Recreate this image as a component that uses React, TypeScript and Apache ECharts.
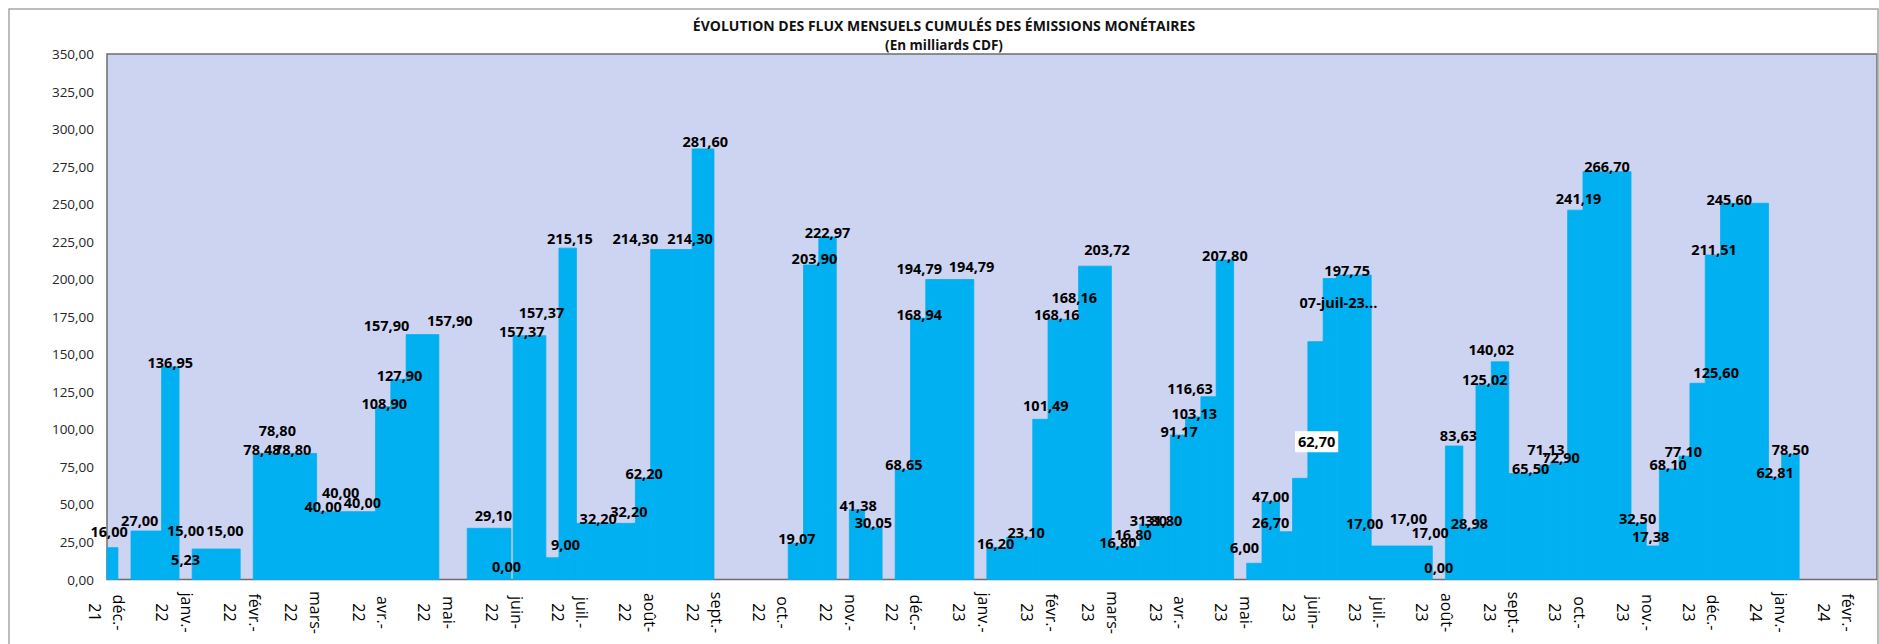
import React, { useEffect, useRef } from "react";
import * as echarts from "echarts";

const FONT = '"Open Sans", "Noto Sans", "DejaVu Sans", sans-serif';

const titleText = "ÉVOLUTION DES FLUX MENSUELS CUMULÉS DES ÉMISSIONS MONÉTAIRES";
const subtitleText = "(En milliards CDF)";

const xMin = "2021-12-01";
const xMax = "2024-02-19T16:00";

const monthTicks = [
  "2021-12-01", "2022-01-01", "2022-02-01", "2022-03-01", "2022-04-01", "2022-05-01", "2022-06-01",
  "2022-07-01", "2022-08-01", "2022-09-01", "2022-10-01", "2022-11-01", "2022-12-01", "2023-01-01",
  "2023-02-01", "2023-03-01", "2023-04-01", "2023-05-01", "2023-06-01", "2023-07-01", "2023-08-01",
  "2023-09-01", "2023-10-01", "2023-11-01", "2023-12-01", "2024-01-01", "2024-02-01",
];
const monthLabels = [
  "déc.-21", "janv.-22", "févr.-22", "mars-22", "avr.-22", "mai-22", "juin-22",
  "juil.-22", "août-22", "sept.-22", "oct.-22", "nov.-22", "déc.-22", "janv.-23",
  "févr.-23", "mars-23", "avr.-23", "mai-23", "juin-23", "juil.-23", "août-23",
  "sept.-23", "oct.-23", "nov.-23", "déc.-23", "janv.-24", "févr.-24",
];

// Bars (cumulated monthly flows), each spanning [start, end) on the date axis
const barStart = [
  "2021-12-01", "2021-12-12", "2021-12-26", "2022-01-09", "2022-02-06", "2022-03-07", "2022-04-03",
  "2022-04-10", "2022-04-17", "2022-05-15", "2022-06-05", "2022-06-20", "2022-06-26", "2022-07-04",
  "2022-07-31", "2022-08-07", "2022-08-26", "2022-10-09", "2022-10-16", "2022-10-23", "2022-11-06",
  "2022-11-13", "2022-11-27", "2022-12-04", "2022-12-11", "2023-01-08", "2023-01-17", "2023-01-29",
  "2023-02-05", "2023-02-19", "2023-03-06", "2023-03-19", "2023-04-02", "2023-04-09", "2023-04-16",
  "2023-04-23", "2023-05-07", "2023-05-14", "2023-05-22", "2023-05-28", "2023-06-04", "2023-06-11",
  "2023-06-17", "2023-07-03", "2023-08-06", "2023-08-14", "2023-08-20", "2023-08-27", "2023-09-04",
  "2023-09-18", "2023-09-23", "2023-10-01", "2023-10-08", "2023-10-30", "2023-11-06", "2023-11-12",
  "2023-11-21", "2023-11-26", "2023-12-03", "2023-12-10", "2024-01-01", "2024-01-07",
];
const barEnd = [
  "2021-12-06", "2021-12-26", "2022-01-03", "2022-01-31", "2022-03-07", "2022-04-03", "2022-04-10",
  "2022-04-17", "2022-05-02", "2022-06-04", "2022-06-20", "2022-06-26", "2022-07-04", "2022-07-31",
  "2022-08-07", "2022-08-26", "2022-09-05", "2022-10-16", "2022-10-23", "2022-10-31", "2022-11-13",
  "2022-11-21", "2022-12-04", "2022-12-11", "2023-01-02", "2023-01-17", "2023-01-29", "2023-02-05",
  "2023-02-19", "2023-03-06", "2023-03-19", "2023-04-02", "2023-04-09", "2023-04-16", "2023-04-23",
  "2023-05-01", "2023-05-14", "2023-05-22", "2023-05-28", "2023-06-04", "2023-06-11", "2023-06-17",
  "2023-07-03", "2023-07-31", "2023-08-14", "2023-08-20", "2023-08-27", "2023-09-04", "2023-09-18",
  "2023-09-23", "2023-10-01", "2023-10-08", "2023-10-30", "2023-11-06", "2023-11-12", "2023-11-21",
  "2023-11-26", "2023-12-03", "2023-12-10", "2024-01-01", "2024-01-07", "2024-01-15",
];
const barTop = [
  21.2, 32.3, 141.7, 20.3, 84.0, 45.2, 115.1, 133.3, 163.1, 34.1, 162.4, 14.5, 220.7, 37.4,
  67.4, 219.8, 286.8, 24.0, 209.5, 227.9, 46.5, 34.5, 72.9, 174.0, 199.8, 21.4, 28.1, 106.7,
  173.2, 208.7, 21.8, 36.8, 96.2, 108.3, 121.7, 212.8, 10.8, 52.0, 31.8, 67.4, 158.4, 200.5,
  202.8, 22.3, 88.9, 34.0, 129.5, 145.0, 70.6, 76.1, 77.9, 246.0, 271.6, 37.5, 22.3, 73.6,
  82.1, 130.7, 216.1, 250.6, 67.8, 83.3,
];

// Data labels: value shown, and where the label sits (date, value level)
const labelValues: (number | string)[] = [
  16.0, 27.0, 136.95, 5.23, 15.0, 15.0, 78.48, 78.8, 78.8, 40.0, 40.0, 40.0, 108.9, 127.9,
  157.9, 157.9, 29.1, 0.0, 157.37, 157.37, 9.0, 215.15, 32.2, 32.2, 62.2, 214.3, 214.3, 281.6,
  19.07, 203.9, 222.97, 41.38, 30.05, 68.65, 168.94, 194.79, 194.79, 16.2, 23.1, 101.49, 168.16,
  168.16, 203.72, 16.8, 16.8, 31.8, 31.8, 91.17, 103.13, 116.63, 207.8, 6.0, 47.0, 26.7, 62.7,
  "07-juil-23...", 197.75, 17.0, 17.0, 17.0, 0.0, 83.63, 28.98, 125.02, 140.02, 65.5, 71.13,
  72.9, 241.19, 266.7, 32.5, 17.38, 68.1, 77.1, 125.6, 211.51, 245.6, 62.81, 78.5,
];
const labelDates = [
  "2021-12-02", "2021-12-16", "2021-12-30", "2022-01-06", "2022-01-06", "2022-01-24", "2022-02-10",
  "2022-02-17", "2022-02-24", "2022-03-10", "2022-03-18", "2022-03-28", "2022-04-07", "2022-04-14",
  "2022-04-08", "2022-05-07", "2022-05-27", "2022-06-02", "2022-06-09", "2022-06-18", "2022-06-29",
  "2022-07-01", "2022-07-14", "2022-07-28", "2022-08-04", "2022-07-31", "2022-08-25", "2022-09-01",
  "2022-10-13", "2022-10-21", "2022-10-27", "2022-11-10", "2022-11-17", "2022-12-01", "2022-12-08",
  "2022-12-08", "2023-01-01", "2023-01-12", "2023-01-26", "2023-02-04", "2023-02-09", "2023-02-17",
  "2023-03-04", "2023-03-09", "2023-03-16", "2023-03-23", "2023-03-30", "2023-04-06", "2023-04-13",
  "2023-04-11", "2023-04-27", "2023-05-06", "2023-05-18", "2023-05-18", "2023-06-08", "2023-06-18",
  "2023-06-22", "2023-06-30", "2023-07-20", "2023-07-30", "2023-08-03", "2023-08-12", "2023-08-17",
  "2023-08-24", "2023-08-27", "2023-09-14", "2023-09-21", "2023-09-28", "2023-10-06", "2023-10-19",
  "2023-11-02", "2023-11-08", "2023-11-16", "2023-11-23", "2023-12-08", "2023-12-07", "2023-12-14",
  "2024-01-04", "2024-01-11",
];
const labelLevels = [
  31.8, 39.6, 144.7, 13.0, 32.5, 32.5, 86.3, 99.1, 86.9, 48.5, 57.8, 51.2, 116.9, 136.2,
  169.5, 172.2, 42.3, 8.5, 165.5, 178.0, 23.0, 227.4, 40.3, 45.6, 70.7, 227.4, 227.4, 292.0,
  27.0, 213.5, 231.0, 49.6, 38.1, 76.9, 176.8, 207.3, 208.8, 24.1, 31.2, 116.2, 176.2,
  187.7, 219.5, 24.8, 30.3, 39.6, 39.6, 98.9, 110.7, 126.9, 216.1, 21.6, 55.1, 37.8, 91.8,
  184.5, 205.5, 37.0, 40.8, 31.4, 8.1, 95.6, 37.0, 132.9, 153.5, 73.6, 86.3,
  81.1, 253.9, 275.0, 40.3, 28.5, 76.3, 85.1, 138.0, 219.5, 253.4, 71.1, 86.3,
];
const boxedLabels = [54];

const yMin = 0;
const yMax = 350;
const yStep = 25;

function parseLocal(s: string): number {
  const [d, t] = s.split("T");
  const [y, m, dd] = d.split("-").map(Number);
  let h = 0;
  let mi = 0;
  if (t) {
    const parts = t.split(":").map(Number);
    h = parts[0];
    mi = parts[1] || 0;
  }
  return new Date(y, m - 1, dd, h, mi).getTime();
}

function fmtNum(v: number | string): string {
  if (typeof v === "string") return v;
  return v.toFixed(2).replace(".", ",");
}

const monthTs = monthTicks.map(parseLocal);

function buildOption() {
  const barData = barStart.map((s, i) => [parseLocal(s), parseLocal(barEnd[i]), barTop[i]]);
  const labelData = labelDates.map((d, i) => [parseLocal(d), labelLevels[i]]);

  return {
    animation: false,
    backgroundColor: "#ffffff",
    title: {
      text: titleText,
      subtext: subtitleText,
      left: 944,
      top: 16,
      padding: 0,
      textAlign: "center",
      itemGap: 1.5,
      textStyle: { fontFamily: FONT, fontSize: 14, fontWeight: "bold", color: "#111111", lineHeight: 18 },
      subtextStyle: { fontFamily: FONT, fontSize: 13.5, fontWeight: "bold", color: "#111111", lineHeight: 18 },
    },
    grid: {
      left: 107,
      right: 2,
      top: 54,
      bottom: 64.5,
      show: true,
      backgroundColor: "#cdd4f2",
      borderColor: "#6e6e6e",
      borderWidth: 1.5,
    },
    xAxis: {
      type: "value",
      min: parseLocal(xMin),
      max: parseLocal(xMax),
      axisLine: { show: false },
      axisTick: { show: false },
      splitLine: { show: false },
      axisLabel: {
        customValues: monthTs,
        rotate: -90,
        align: "center",
        verticalAlign: "middle",
        margin: 33,
        fontFamily: FONT,
        fontSize: 16,
        lineHeight: 24.5,
        color: "#000000",
        formatter: (val: number) => {
          let idx = -1;
          for (let i = 0; i < monthTs.length; i++) {
            if (Math.abs(monthTs[i] - val) < 43200000) idx = i;
          }
          if (idx < 0) return "";
          const lab = monthLabels[idx];
          const cut = lab.lastIndexOf("-") + 1;
          return lab.slice(0, cut) + "\n" + lab.slice(cut);
        },
      },
    },
    yAxis: {
      type: "value",
      min: yMin,
      max: yMax,
      interval: yStep,
      axisLine: { show: false },
      axisTick: { show: false },
      splitLine: { show: false },
      axisLabel: {
        margin: 13,
        fontFamily: FONT,
        fontSize: 13.5,
        color: "#262626",
        formatter: (v: number) => fmtNum(v),
      },
    },
    graphic: [
      {
        type: "rect",
        silent: true,
        z: 100,
        shape: { x: 9, y: 9, width: 1869, height: 700 },
        style: { fill: "transparent", stroke: "#a6a6a6", lineWidth: 1.5 },
      },
    ],
    series: [
      {
        type: "custom",
        name: "Flux cumulés",
        coordinateSystem: "cartesian2d",
        encode: { x: [0, 1], y: 2 },
        data: barData,
        z: 2,
        renderItem: (params: any, api: any) => {
          const p0 = api.coord([api.value(0), api.value(2)]);
          const p1 = api.coord([api.value(1), 0]);
          return {
            type: "rect",
            shape: { x: p0[0], y: p0[1], width: p1[0] - p0[0], height: p1[1] - p0[1] },
            style: { fill: "#00b0f0", stroke: "#00b0f0", lineWidth: 0.8 },
          };
        },
      },
      {
        type: "custom",
        name: "Étiquettes",
        coordinateSystem: "cartesian2d",
        encode: { x: 0, y: 1 },
        data: labelData,
        z: 5,
        renderItem: (params: any, api: any) => {
          const i = params.dataIndex;
          const p = api.coord([api.value(0), api.value(1)]);
          const boxed = boxedLabels.indexOf(i) >= 0;
          return {
            type: "text",
            x: p[0],
            y: p[1],
            style: {
              text: fmtNum(labelValues[i]),
              fill: "#000000",
              fontFamily: FONT,
              fontSize: 14.5,
              fontWeight: "bold",
              align: "center",
              verticalAlign: "middle",
              textAlign: "center",
              textVerticalAlign: "middle",
              backgroundColor: boxed ? "#ffffff" : undefined,
              padding: boxed ? [3, 3, 3, 3] : 0,
            },
          };
        },
      },
    ],
  };
}

export default function App() {
  const ref = useRef<HTMLDivElement>(null);
  useEffect(() => {
    if (!ref.current) return;
    const chart = echarts.init(ref.current, null, { renderer: "svg" });
    chart.setOption(buildOption() as any);
    return () => {
      chart.dispose();
    };
  }, []);
  return (
    <div
      ref={ref}
      style={{ position: "absolute", left: 0, top: 0, width: 1879, height: 644, background: "#ffffff" }}
    />
  );
}
